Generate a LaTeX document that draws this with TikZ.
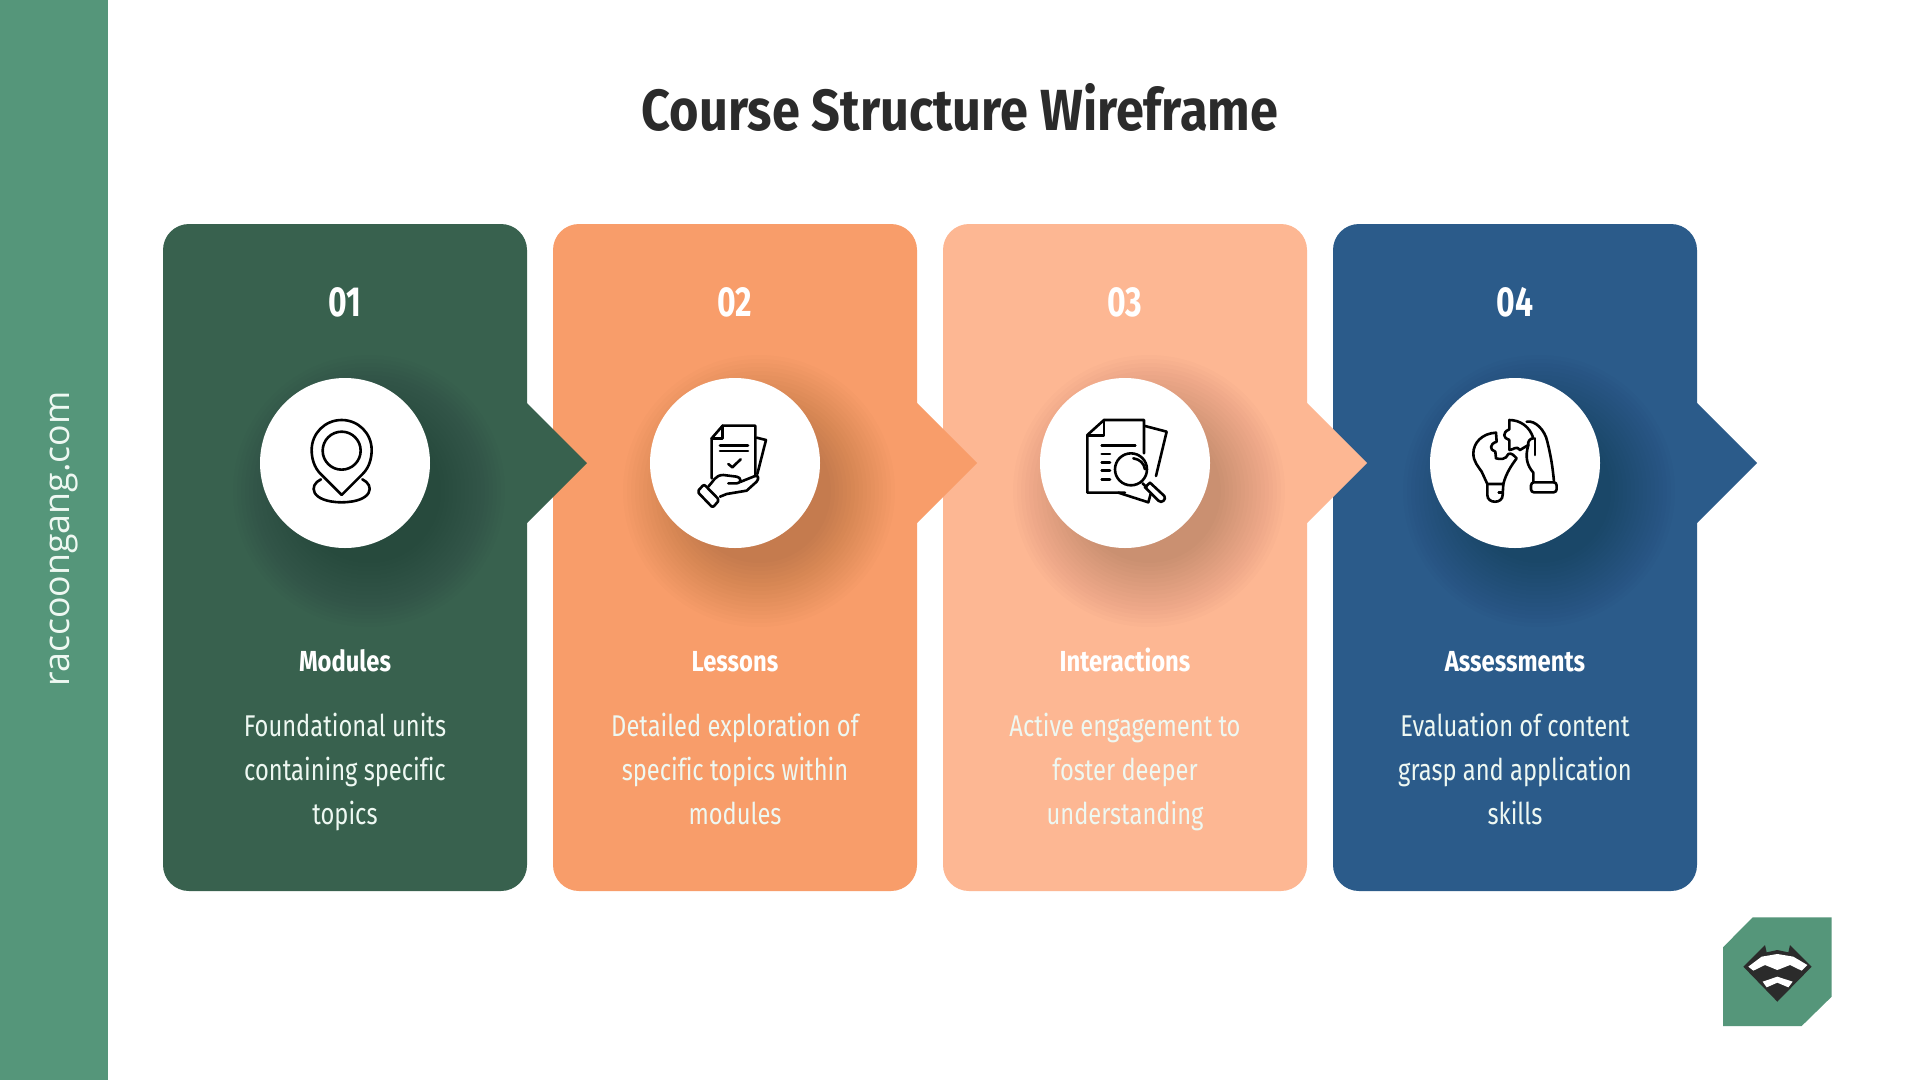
\documentclass[tikz,border=0pt]{standalone}
\usepackage{fontspec}
\setmainfont{Fira Sans}
\newfontfamily\condfont[FakeStretch=0.79,Ligatures=CommonOff]{Fira Sans}
\newfontfamily\headfont[FakeStretch=0.82,Ligatures=CommonOff]{Fira Sans}
\newfontfamily\numfont[FakeStretch=0.76]{Fira Sans}
\newfontfamily\titlefont[FakeStretch=0.87]{Fira Sans}
\newfontfamily\sidefont{Open Sans}
\definecolor{sidegreen}{HTML}{55967A}
\definecolor{cardgreen}{HTML}{38614E}
\definecolor{cardorange}{HTML}{F89D6A}
\definecolor{cardpeach}{HTML}{FDB793}
\definecolor{cardblue}{HTML}{2B5B8A}
\definecolor{titleink}{HTML}{2B2B2B}
\definecolor{paletext}{HTML}{EEF8F2}
\tikzset{
  cardnum/.style={anchor=base,text=white,font=\numfont\fontsize{42}{46}\selectfont\bfseries},
  cardhead/.style={anchor=base,text=white,font=\headfont\fontsize{29}{34}\selectfont\bfseries},
  cardbody/.style={anchor=base,text=paletext,font=\condfont\fontsize{30}{44}\selectfont},
  disc/.style={fill=white},
  iconline/.style={draw=black,line width=2.6pt,line join=round,line cap=round,fill=none},
}
\begin{document}
\begin{tikzpicture}[x=1pt,y=-1pt]
\useasboundingbox (0,0) rectangle (1920,1080);
\fill[white] (0,0) rectangle (1920,1080);
\fill[sidegreen] (0,0) rectangle (108,1080);
\node[rotate=90,text=paletext,font=\sidefont\fontsize{35.7}{40}\selectfont] (sidetext) at (64,539) {raccoongang.com};
\node[anchor=base,text=titleink,font=\titlefont\fontsize{58}{62}\selectfont\bfseries] (title) at (960,130) {Course Structure Wireframe};
% cards, right to left so that each arrow lies over the next card
\foreach \x/\cfill/\num/\ttl/\la/\lb/\lc/\tag in {
  1333/cardblue/04/Assessments/Evaluation of content/grasp and application/skills/d,
  943/cardpeach/03/Interactions/Active engagement to/foster deeper/understanding/c,
  553/cardorange/02/Lessons/Detailed exploration of/specific topics within/modules/b,
  163/cardgreen/01/Modules/Foundational units/containing specific/topics/a}{
  \fill[\cfill,rounded corners=26pt] (\x,224) rectangle (\x+364,891);
  \fill[\cfill] (\x+363,402) -- (\x+424,463) -- (\x+363,524) -- cycle;
  \begin{scope}
    \clip[rounded corners=26pt] (\x,224) rectangle (\x+364,891);
    \foreach \r in {72,76,...,136}{
      \fill[black,fill opacity=0.012] (\x+182+24,463+28) circle[radius=\r];
    }
  \end{scope}
  \node[cardnum] (num\tag) at (\x+182,316) {\num};
  \node[cardhead] (head\tag) at (\x+182,671) {\ttl};
  \node[cardbody] (bodyone\tag) at (\x+182,736) {\la};
  \node[cardbody] (bodytwo\tag) at (\x+182,780) {\lb};
  \node[cardbody] (bodythree\tag) at (\x+182,824) {\lc};
  \fill[disc] (\x+182,463) circle[radius=85];
}
% icon 1: location pin
\begin{scope}[shift={(250,370)},x=0.3333pt,y=-0.3333pt]
  \draw[iconline] (275,375) -- (212,312) .. controls (192,292) and (185,265) .. (185,240) .. controls (185,190) and (225,150) .. (275,150) .. controls (325,150) and (365,190) .. (365,240) .. controls (365,265) and (358,292) .. (338,312) -- cycle;
  \draw[iconline] (275,242) circle[radius=57];
  \draw[iconline] (213,328) .. controls (175,345) and (180,396) .. (275,397) .. controls (370,396) and (375,345) .. (337,328);
\end{scope}
% icon 2: hand holding papers
\begin{scope}[shift={(640,370)},x=0.3333pt,y=-0.3333pt]
  \draw[iconline] (215,325) -- (215,205) -- (248,167) -- (346,167) -- (346,318);
  \draw[iconline] (248,167) -- (248,205) -- (215,205);
  \draw[iconline] (350,203) -- (378,210) -- (352,312);
  \draw[iconline] (240,226) -- (324,226) (240,243) -- (324,243);
  \draw[iconline] (265,282) -- (277,292) -- (302,268);
  \draw[iconline,rounded corners=2pt] (172,365) -- (192,343) -- (238,390) -- (218,413) -- cycle;
  \draw[iconline] (205,350) .. controls (220,335) and (225,315) .. (250,315) -- (290,320) .. controls (305,322) and (305,340) .. (290,340) -- (265,340);
  \draw[iconline] (303,335) -- (345,318) .. controls (355,315) and (358,325) .. (350,335) -- (320,362) -- (260,372) -- (240,380);
\end{scope}
% icon 3: papers and magnifier
\begin{scope}[shift={(1030,370)},x=0.3333pt,y=-0.3333pt]
  \draw[iconline] (285,368) -- (172,368) -- (172,195) -- (222,150) -- (342,150) -- (342,250);
  \draw[iconline] (222,150) -- (222,197) -- (172,197);
  \draw[iconline] (345,168) -- (410,185) -- (378,318);
  \draw[iconline] (265,368) -- (355,397) -- (362,372);
  \draw[iconline] (215,227) -- (316,227);
  \draw[iconline] (215,252) -- (240,252) (215,277) -- (240,277) (215,302) -- (240,302) (215,328) -- (240,328);
  \draw[iconline] (303,298) circle[radius=48];
  \draw[iconline] (310,265) .. controls (330,268) and (342,280) .. (345,298);
  \draw[iconline] (338,340) -- (350,352);
  \draw[iconline] (345,352) -- (360,338) -- (403,378) .. controls (410,388) and (395,402) .. (385,392) -- cycle;
\end{scope}
% icon 4: bulb, puzzle piece and hand
\begin{scope}[shift={(1420,370)},x=0.3333pt,y=-0.3333pt]
  \draw[iconline] (228,188) .. controls (185,190) and (160,220) .. (160,250) .. controls (160,275) and (175,290) .. (185,305) -- (202,342) -- (250,342) .. controls (258,310) and (275,285) .. (290,265) .. controls (280,255) and (275,248) .. (265,252) .. controls (258,270) and (240,268) .. (228,265) -- (226,245) .. controls (208,240) and (208,222) .. (230,215) -- cycle;
  \draw[iconline] (202,342) -- (202,375) .. controls (202,402) and (248,402) .. (248,375) -- (250,342);
  \draw[iconline] (236,368) -- (248,368);
  \draw[iconline] (268,240) -- (268,210) .. controls (250,205) and (245,188) .. (268,178) -- (268,150) .. controls (300,150) and (330,170) .. (340,205) .. controls (330,205) and (322,215) .. (325,225) -- (300,240) .. controls (290,225) and (280,240) .. (268,240);
  \draw[iconline] (320,155) .. controls (345,150) and (375,180) .. (382,215) .. controls (392,255) and (398,290) .. (402,335);
  \draw[iconline] (345,205) -- (345,255);
  \draw[iconline] (325,225) .. controls (315,260) and (320,285) .. (340,308) -- (340,337);
  \draw[iconline,rounded corners=3pt] (333,337) rectangle (410,367);
\end{scope}
% logo badge
\begin{scope}[shift={(1700,900)},x=0.3333pt,y=-0.3333pt]
  \fill[sidegreen] (69,142) -- (158,52) -- (395,52) -- (395,290) -- (305,378) -- (69,378) -- cycle;
  \fill[titleink] (130,200) -- (195,135) -- (200,157) -- (232,150) -- (265,157) -- (270,135) -- (335,200) -- (232,305) -- cycle;
  \fill[white] (145,200) -- (185,170) -- (232,162) -- (280,170) -- (322,195) -- (305,212) -- (270,195) -- (232,210) -- (195,195) -- (160,212) -- cycle;
  \fill[white] (188,245) -- (232,230) -- (278,245) -- (265,262) -- (232,248) -- (200,262) -- cycle;
\end{scope}
\end{tikzpicture}
\end{document}
